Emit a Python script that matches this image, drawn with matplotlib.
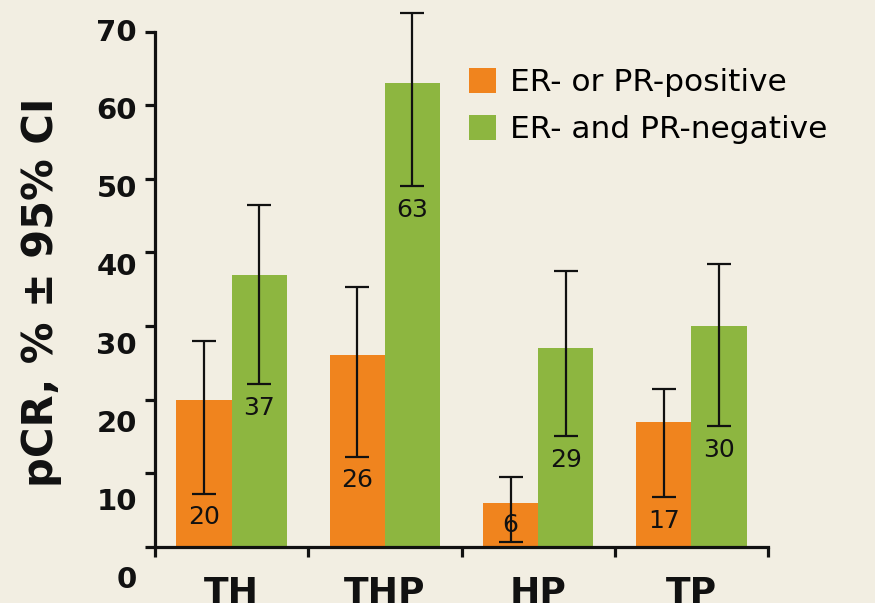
import numpy as np
import matplotlib
matplotlib.use("Agg")
from matplotlib import pyplot as plt
from matplotlib.transforms import blended_transform_factory

# data
groups = ["TH", "THP", "HP", "TP"]
series = ["ER- or PR-positive", "ER- and PR-negative"]
pos_vals = [20, 26, 6, 17]
neg_vals = [37, 63, 27, 30]
pos_lo = [7.2, 12.2, 0.6, 6.7]
pos_hi = [28.0, 35.3, 9.5, 21.4]
neg_lo = [22.1, 49.0, 15.0, 16.4]
neg_hi = [46.4, 72.6, 37.5, 38.4]
pos_text = ["20", "26", "6", "17"]
neg_text = ["37", "63", "29", "30"]
yticks = [0, 10, 20, 30, 40, 50, 60, 70]

bg = "#f2eee2"
orange = "#f0841e"
green = "#8db640"

fig = plt.figure(figsize=(8.75, 6.03), dpi=100, facecolor=bg)
ax = fig.add_axes([155/875, 56.3/603, 613/875, 544.4/603])
ax.set_facecolor(bg)

x = np.arange(len(groups))
w = 0.36

ax.bar(x - w/2, pos_vals, w, color=orange, label=series[0], zorder=2)
ax.bar(x + w/2, neg_vals, w, color=green, label=series[1], zorder=2)

# asymmetric confidence intervals
for off, vals, lo, hi in [(-w/2, pos_vals, pos_lo, pos_hi), (w/2, neg_vals, neg_lo, neg_hi)]:
    vals = np.array(vals, dtype=float)
    err = [vals - np.array(lo), np.array(hi) - vals]
    ax.errorbar(x + off, vals, yerr=err, fmt="none", ecolor="#111111",
                elinewidth=1.6, capsize=8.6, capthick=1.6, zorder=3, clip_on=False)

# value labels sit just under the lower cap
for off, lo, txt in [(-w/2, pos_lo, pos_text), (w/2, neg_lo, neg_text)]:
    for i in range(len(groups)):
        ax.text(x[i] + off, max(lo[i] - 3.2, 3.0), txt[i], ha="center", va="center",
                fontsize=18, color="#111111", zorder=4)

ax.set_xlim(-0.5, 3.5)
ax.set_ylim(0, 74)

for s in ["top", "right"]:
    ax.spines[s].set_visible(False)
for s in ["left", "bottom"]:
    ax.spines[s].set_linewidth(2.3)
    ax.spines[s].set_color("#111111")
ax.spines["left"].set_bounds(0, 70)

ax.set_yticks(yticks)
ax.set_yticklabels([])
ax.tick_params(axis="y", direction="out", length=7.2, width=2.3, color="#111111")

# y labels are spread a bit wider than the ticks in the original
tr = blended_transform_factory(ax.transAxes, ax.transData)
for v in yticks:
    ax.text(-18/613, -4.53 + 1.0621*v, str(v), transform=tr, ha="right", va="center",
            fontsize=21, fontweight="bold", color="#111111", clip_on=False)

ax.set_xticks(x)
ax.set_xticklabels(groups, fontsize=26, fontweight="bold", color="#111111")
ax.tick_params(axis="x", which="major", length=0, pad=21)
ax.set_xticks(np.arange(-0.5, 4.0, 1.0), minor=True)
ax.tick_params(axis="x", which="minor", direction="out", length=7.2, width=2.3, color="#111111")

fig.text(41/875, 1 - 292.5/603, "pCR, % \u00b1 95% CI", rotation=90, ha="center", va="center",
         fontsize=30, fontweight="bold", color="#111111")

ax.legend(loc="upper left", bbox_to_anchor=(469/875, 1 - 68/603), bbox_transform=fig.transFigure,
          frameon=False, fontsize=22.5, handlelength=0.86, handleheight=0.86,
          handletextpad=0.45, labelspacing=0.55, borderpad=0, borderaxespad=0)

fig.savefig("out.png", dpi=100, facecolor=bg)
